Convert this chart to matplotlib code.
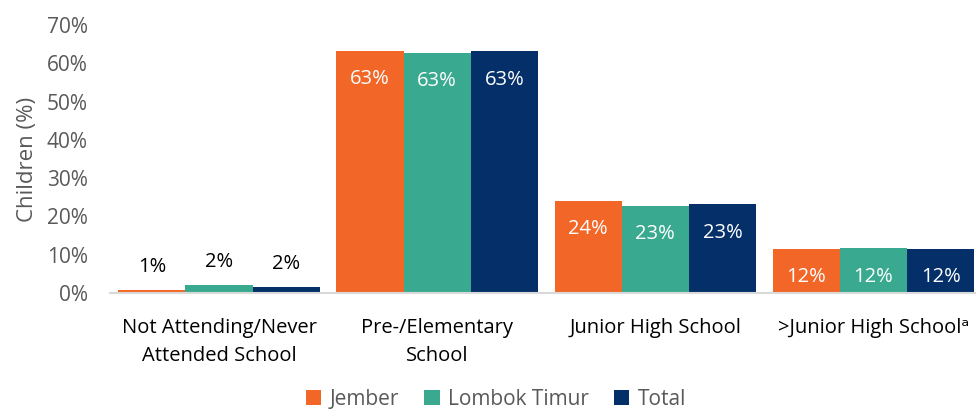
import matplotlib
matplotlib.use("Agg")
import matplotlib.pyplot as plt
import numpy as np

categories = ["Not Attending/Never\nAttended School", "Pre-/Elementary\nSchool",
              "Junior High School", ">Junior High School\u1d43"]
series_names = ["Jember", "Lombok Timur", "Total"]
jember = [0.8, 63.3, 24.1, 11.6]
lombok_timur = [2.1, 62.8, 22.8, 11.8]
total = [1.6, 63.2, 23.3, 11.6]
yticks = [0, 10, 20, 30, 40, 50, 60, 70]

colors = ["#f26727", "#39aa8f", "#042f68"]
values = [jember, lombok_timur, total]

plt.rcParams["font.family"] = ["Open Sans", "DejaVu Sans"]

fig = plt.figure(figsize=(9.76, 4.16), dpi=100)
ax = fig.add_axes([110 / 976, 1 - 293 / 416, 866 / 976, (293 - 25) / 416])

x = np.arange(len(categories))
w = 0.308
for i, (name, vals, c) in enumerate(zip(series_names, values, colors)):
    pos = x + (i - 1) * w
    ax.bar(pos, vals, width=w, color=c, label=name, zorder=2)
    for p, v in zip(pos, vals):
        txt = f"{v:.0f}%"
        if v > 5:
            ax.annotate(txt, (p, v), xytext=(0, -13.5), textcoords="offset points",
                        ha="center", va="top", color="white", fontsize=14.5)
        else:
            ax.annotate(txt, (p, v), xytext=(0, 9), textcoords="offset points",
                        ha="center", va="bottom", color="black", fontsize=14.5)

ax.set_xlim(-0.5, 3.47)
ax.set_ylim(0, 70)
ax.set_yticks(yticks)
ax.set_yticklabels([f"{t}%" for t in yticks], color="#595959", fontsize=15)
ax.set_xticks(x)
ax.set_xticklabels(categories, fontsize=14.5, color="black", linespacing=1.55)
ax.tick_params(axis="both", length=0)
ax.tick_params(axis="x", pad=18)
ax.tick_params(axis="y", pad=16)
for s in ["top", "right", "left"]:
    ax.spines[s].set_visible(False)
ax.spines["bottom"].set_color("#d9d9d9")
ax.spines["bottom"].set_linewidth(1.5)
ax.set_ylabel("Children (%)", color="#595959", fontsize=16, labelpad=6)

fig.legend(loc="lower center", bbox_to_anchor=(0.508, -0.03), ncol=3, frameon=False,
           fontsize=15, handlelength=0.75, handleheight=0.75, handletextpad=0.4,
           columnspacing=1.2, labelcolor="#595959")

fig.savefig("out.png", dpi=100)
